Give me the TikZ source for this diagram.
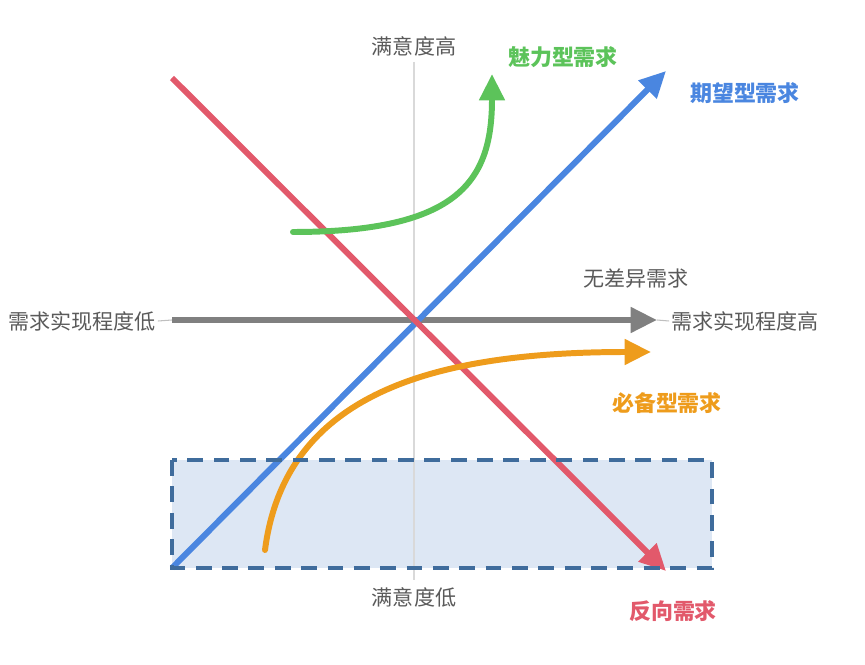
\documentclass[tikz,border=0pt]{standalone}
\usepackage{fontspec}
\setmainfont{Noto Sans CJK SC}
\usetikzlibrary{arrows.meta}
\definecolor{cred}{HTML}{E2596B}
\definecolor{cblue}{HTML}{4A86E0}
\definecolor{cgreen}{HTML}{5CC35A}
\definecolor{corange}{HTML}{EE9C1C}
\definecolor{cgray}{HTML}{808080}
\definecolor{ctext}{HTML}{5A5A5A}
\definecolor{cbox}{HTML}{DDE7F4}
\definecolor{cborder}{HTML}{3F6C9C}
\begin{document}
\begin{tikzpicture}[x=0.02cm,y=-0.02cm,
  thickline/.style={line width=3.4pt},
  tip/.style={-{Triangle[length=15pt,width=14pt]}},
  lbl/.style={font=\fontsize{12pt}{14pt}\selectfont, text=ctext, inner sep=1pt},
  clbl/.style={font=\fontsize{12.5pt}{14pt}\selectfont\bfseries, inner sep=1pt}]
\useasboundingbox (0,0) rectangle (865,665);
% box fill
\coordinate (b1) at (172,460);
\coordinate (b2) at (712,568);
\fill[cbox] (b1) rectangle (b2);
% axis labels
\node[lbl] (top) at (414,46) {满意度高};
\node[lbl] (bot) at (414,597) {满意度低};
\node[lbl] (left) at (82,321) {需求实现程度低};
\node[lbl] (right) at (745,321) {需求实现程度高};
\node[lbl] (indiff) at (636,278) {无差异需求};
% vertical axis
\coordinate (vt) at (414,62);
\coordinate (vb) at (414,580);
\draw[black!15, line width=0.8pt] (vt) -- (vb);
% horizontal axis
\coordinate (hs) at (172,320);
\coordinate (he) at (657,320);
\draw[black!25, line width=0.6pt] (left.east) -- (hs);
\draw[black!25, line width=0.6pt] (he) -- (right.west);
\draw[cgray, thickline, tip] (hs) -- (he);
% blue
\coordinate (bs) at (172,568);
\coordinate (be) at (666,71);
\draw[cblue, thickline, tip] (bs) -- (be);
\node[clbl, text=cblue] (blbl) at (745,93) {期望型需求};
% red
\coordinate (rs) at (172,78);
\coordinate (re) at (666,571);
\draw[cred, thickline, tip] (rs) -- (re);
\node[clbl, text=cred] (rlbl) at (673,611) {反向需求};
% green
\coordinate (gs) at (293,232);
\coordinate (ge) at (492,74);
\draw[cgreen, thickline, tip, line cap=round] (gs) .. controls (460,232) and (492,180) .. (ge);
\node[clbl, text=cgreen] (glbl) at (563,57) {魅力型需求};
% orange
\coordinate (os) at (265,550);
\coordinate (oe) at (651,352);
\draw[corange, thickline, tip, line cap=round] (os) .. controls (285,395) and (430,352) .. (oe);
\node[clbl, text=corange] (olbl) at (667,403) {必备型需求};
% box border
\draw[cborder, line width=2.2pt, dash pattern=on 9pt off 6pt] (b1) rectangle (b2);
\end{tikzpicture}
\end{document}
